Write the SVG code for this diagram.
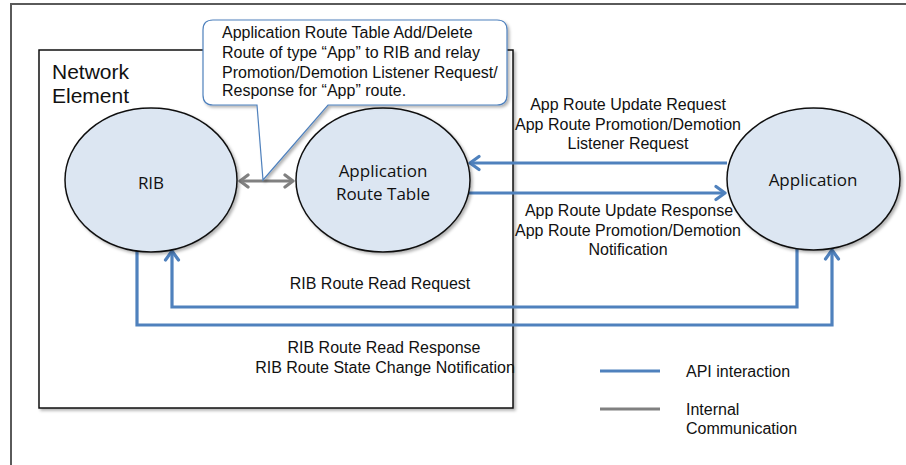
<svg xmlns="http://www.w3.org/2000/svg" width="906" height="465" viewBox="0 0 906 465">
  <style>
    .lbl { font-family: "Liberation Sans", Arial, sans-serif; font-size: 16px; fill: #111; }
    .mid { text-anchor: middle; }
    .node-text { font-family: "Open Sans", "Liberation Sans", sans-serif; font-size: 17px; fill: #111; text-anchor: middle; }
    .node { fill: #dce6f2; stroke: #111; stroke-width: 1.5; }
    .api { fill: none; stroke: #4f81bd; stroke-width: 3.2; }
    .internal { fill: none; stroke: #808080; stroke-width: 3.2; }
  </style>
  <defs>
    <filter id="shadow" x="-10%" y="-10%" width="130%" height="130%">
      <feDropShadow dx="2" dy="2" stdDeviation="1.6" flood-color="#000" flood-opacity="0.3"/>
    </filter>
    <marker id="arrowBlue" viewBox="-12 -9 14 18" refX="0" refY="0" markerWidth="14" markerHeight="18" markerUnits="userSpaceOnUse" orient="auto">
      <path d="M-9,-6.5 L0,0 L-9,6.5" fill="none" stroke="#4f81bd" stroke-width="3.2" stroke-linecap="round" stroke-linejoin="round"/>
    </marker>
    <marker id="arrowGray" viewBox="-12 -9 14 18" refX="0" refY="0" markerWidth="14" markerHeight="18" markerUnits="userSpaceOnUse" orient="auto-start-reverse">
      <path d="M-8,-6 L0,0 L-8,6" fill="none" stroke="#808080" stroke-width="3.2" stroke-linecap="round" stroke-linejoin="round"/>
    </marker>
  </defs>

  <rect width="906" height="465" fill="#fff"/>
  <!-- outer frame -->
  <rect x="11" y="4" width="905" height="475" fill="none" stroke="#5a5a5a" stroke-width="2"/>

  <!-- network element container -->
  <g id="network-element">
    <rect x="39" y="50" width="474" height="358" fill="#fff" stroke="#111" stroke-width="1.5" filter="url(#shadow)"/>
    <text class="lbl" x="52" y="79" style="font-size:21px">Network</text>
    <text class="lbl" x="52" y="103" style="font-size:21px">Element</text>
  </g>

  <!-- connectors -->
  <g id="connectors">
    <line class="internal" x1="240" y1="181" x2="293" y2="181" marker-start="url(#arrowGray)" marker-end="url(#arrowGray)"/>
    <line class="api" x1="727" y1="163" x2="470" y2="163" marker-end="url(#arrowBlue)"/>
    <line class="api" x1="469" y1="193" x2="725" y2="193" marker-end="url(#arrowBlue)"/>
    <polyline class="api" points="797,249 797,307 172,307 172,251" marker-end="url(#arrowBlue)"/>
    <polyline class="api" points="137,250 137,325 832,325 832,250" marker-end="url(#arrowBlue)"/>
  </g>

  <g id="rib">
    <ellipse class="node" cx="151" cy="180" rx="86" ry="72" filter="url(#shadow)"/>
    <text class="node-text" x="151" y="189">RIB</text>
  </g>

  <g id="application-route-table">
    <ellipse class="node" cx="383" cy="180" rx="87" ry="72" filter="url(#shadow)"/>
    <text class="node-text" x="383" y="177">Application</text>
    <text class="node-text" x="383" y="200">Route Table</text>
  </g>

  <g id="application">
    <ellipse class="node" cx="813.5" cy="179" rx="86.5" ry="71" filter="url(#shadow)"/>
    <text class="node-text" x="813" y="186">Application</text>
  </g>

  <!-- callout for the internal link -->
  <g id="callout">
    <path d="M213,20 H497 Q507,20 507,30 V95 Q507,105 497,105 H328 L263,180 L257,105 H213 Q203,105 203,95 V30 Q203,20 213,20 Z" fill="#fff" stroke="#4f81bd" stroke-width="1.2" filter="url(#shadow)"/>
    <text class="lbl" x="222" y="38">Application Route Table Add/Delete</text>
    <text class="lbl" x="222" y="58">Route of type “App” to RIB and relay</text>
    <text class="lbl" x="222" y="78">Promotion/Demotion Listener Request/</text>
    <text class="lbl" x="222" y="96">Response for “App” route.</text>
  </g>

  <!-- connector labels -->
  <g id="labels">
    <text class="lbl mid" x="628" y="110">App Route Update Request</text>
    <text class="lbl mid" x="628" y="130">App Route Promotion/Demotion</text>
    <text class="lbl mid" x="628" y="149">Listener Request</text>
    <text class="lbl mid" x="629" y="216">App Route Update Response</text>
    <text class="lbl mid" x="628" y="236">App Route Promotion/Demotion</text>
    <text class="lbl mid" x="628" y="255">Notification</text>
    <text class="lbl mid" x="380" y="289">RIB Route Read Request</text>
    <text class="lbl mid" x="384" y="353">RIB Route Read Response</text>
    <text class="lbl mid" x="385" y="373">RIB Route State Change Notification</text>
  </g>

  <!-- legend -->
  <g id="legend">
    <line class="api" x1="600" y1="371" x2="660" y2="371"/>
    <text class="lbl" x="686" y="377">API interaction</text>
    <line class="internal" x1="600" y1="409" x2="660" y2="409"/>
    <text class="lbl" x="686" y="415">Internal</text>
    <text class="lbl" x="686" y="434">Communication</text>
  </g>
</svg>
